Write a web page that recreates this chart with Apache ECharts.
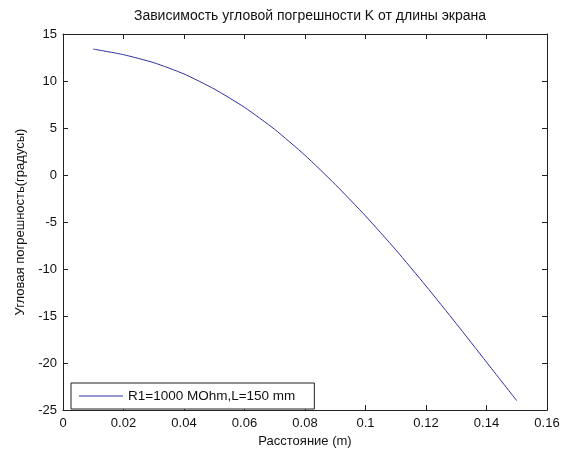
<!DOCTYPE html>
<html lang="ru">
<head>
    <meta charset="UTF-8" />
    <title>Зависимость угловой погрешности</title>
    <script src="https://cdn.jsdelivr.net/npm/echarts@6/dist/echarts.min.js"></script>
</head>
<body style="margin: 0; background: #fff">
    <div style="width: 568px; height: 453px" id="chart"></div>
    <script>
        const myChart = echarts.init(document.getElementById("chart"));

        // расстояние (m) и угловая погрешность (градусы)
        const distance = [0.01, 0.02, 0.03, 0.04, 0.05, 0.06, 0.07, 0.08, 0.09, 0.10, 0.11, 0.12, 0.13, 0.14, 0.15];
        const angleError = [13.4, 12.8, 11.95, 10.75, 9.15, 7.2, 4.85, 2.1, -1.0, -4.35, -7.95, -11.8, -15.8, -19.9, -24.0];
        const seriesName = "R1=1000 MOhm,L=150 mm";

        const font = "'Liberation Sans', Arial, sans-serif";
        const axisColor = "#222";
        const lineColor = "#2f2fa0";

        const points = distance.map((d, i) => [d, angleError[i]]);

        function boxAxis(extra) {
            return Object.assign({
                type: "value",
                axisLine: { show: true, onZero: false, lineStyle: { color: axisColor, width: 1 } },
                axisTick: { show: true, inside: true, length: 5, lineStyle: { color: axisColor } },
                splitLine: { show: false },
                axisLabel: { show: false },
            }, extra);
        }

        const option = {
            backgroundColor: "#fff",
            animation: false,
            title: {
                text: "Зависимость угловой погрешности K от длины экрана",
                left: 305,
                textAlign: "center",
                top: 4,
                textStyle: { fontFamily: font, fontSize: 14, fontWeight: "normal", color: "#111" },
            },
            grid: { left: 63, right: 21, top: 34, bottom: 39 },
            legend: {
                left: 71,
                top: 383,
                data: [{ name: seriesName, icon: "rect" }],
                itemWidth: 44,
                itemHeight: 1,
                padding: [6, 19, 6, 8],
                borderColor: "#222",
                borderWidth: 1,
                backgroundColor: "#fff",
                itemStyle: { color: lineColor },
                textStyle: { fontFamily: font, fontSize: 13.5, color: "#111" },
            },
            xAxis: [
                boxAxis({
                    position: "bottom",
                    min: 0,
                    max: 0.16,
                    interval: 0.02,
                    axisLabel: { show: true, margin: 7, fontFamily: font, fontSize: 13, color: "#111" },
                    name: "Расстояние (m)",
                    nameLocation: "middle",
                    nameGap: 24,
                    nameTextStyle: { fontFamily: font, fontSize: 13, color: "#111" },
                }),
                boxAxis({ position: "top", min: 0, max: 0.16, interval: 0.02 }),
            ],
            yAxis: [
                boxAxis({
                    position: "left",
                    min: -25,
                    max: 15,
                    interval: 5,
                    axisLabel: { show: true, margin: 6, fontFamily: font, fontSize: 13, color: "#111" },
                    name: "Угловая погрешность(градусы)",
                    nameLocation: "middle",
                    nameGap: 36,
                    nameTextStyle: { fontFamily: font, fontSize: 13, color: "#111" },
                }),
                boxAxis({ position: "right", min: -25, max: 15, interval: 5 }),
            ],
            series: [
                {
                    name: seriesName,
                    type: "line",
                    data: points,
                    symbol: "none",
                    smooth: 0.2,
                    color: lineColor,
                    lineStyle: { color: lineColor, width: 1 },
                },
            ],
        };

        myChart.setOption(option);
    </script>
</body>
</html>
